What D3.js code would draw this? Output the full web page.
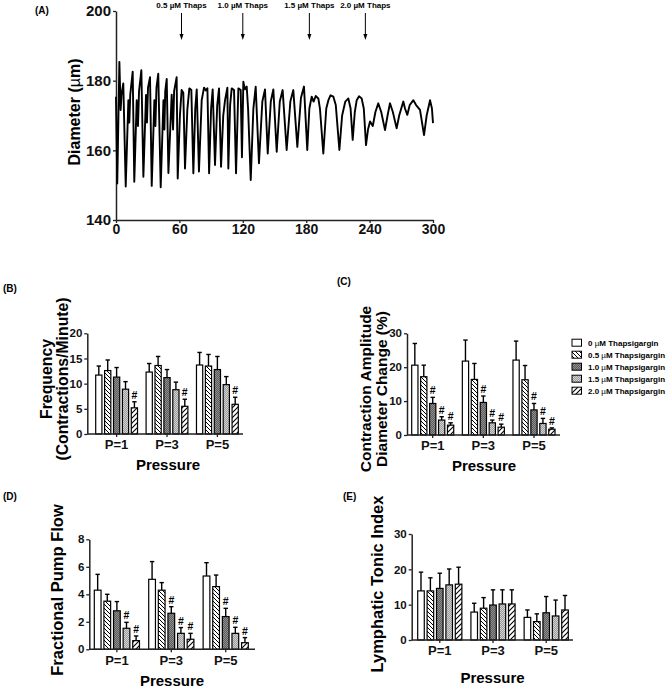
<!DOCTYPE html>
<html><head><meta charset="utf-8">
<script src="https://cdn.jsdelivr.net/npm/d3@7"></script>
<style>
body{margin:0;background:#fff}
svg{display:block;font-family:"Liberation Sans",Arial,sans-serif}
</style></head><body>
<svg id="chart" width="671" height="693"></svg>
<script>
// ---------- Panel A data (diameter trace) ----------
const traceTime = [0,1.2,3.2,4.4,5.2,6.9,9.2,11.7,12.6,13.5,15.8,17.3,19.6,20.8,21.8,24,25.9,28.4,29.3,30.3,32.2,33.8,36.3,37.3,38.3,40,42.3,44.9,45.8,46.6,48,49.6,52.7,54,55,57.4,58.4,
60.5,62.1,63.7,65.3,67.5,69.4,71.3,73.2,75,76.4,78.5,81.1,83.3,85,86.5,88.1,90,91.5,93.7,95.8,97.5,99.4,101.5,103.2,105.4,106.3,108,109.5,111.7,113.6,115.8,118,119.2,120.5,122,123.7,125,127.5,130,132.2,135.3,138.5,141,143.6,146.5,148.9,152.1,155,157.7,161.5,165,167.8,171.6,175,177.9,181,183,185.2,187,189,191.5,193,196.2,199,201,203,205.7,208,211.4,214,217,219.9,222,224,226,227.8,230,232.5,234.5,236.6,238.5,240.4,243,245.5,248.2,251,254.6,257,259.3,262,265.6,268,271.9,273.5,275.7,278,281.4,284,287.7,291.5,294,297.2,299,300];
const traceDiameter = [175.4,150.5,185.4,171.6,176,179.2,149.6,174.4,168,176,182.6,151,174.4,167,177,183,152.4,175.9,168,178,181,149.8,174.4,167,178,182,149.4,174.4,166,177,180.5,153.5,176,166,177,181,151.9,
170,177.3,176.5,154.8,171.6,177.8,177.3,153.4,172,177.5,153.9,174.4,178,177.2,177.8,153.4,172,177.5,155.8,173,177.8,155.3,170,174.4,178,154.8,173,177.8,177.3,153.4,177.8,177.3,158,179.7,177.5,178.3,172,151.5,172,178.3,156.3,174,177.5,159.1,174,177.5,159.6,174,177.3,160.1,174,177.3,161,175,178.3,160.1,172,175.4,174,175.6,174.9,172,159.1,172,174.4,175.8,175.4,173,160.1,170,174,174.9,172,163,171,174.4,175.5,174.9,172,161.5,166,168.3,167,171,173.5,171,165.8,170,173.5,171,166.3,170,174,172,170.2,173,174.4,173,171.6,164.4,170,174.4,172,167.8];
const traceXTicks = [0,60,120,180,240,300];
const traceYTicks = [140,160,180,200];
const drugTimes = [62,120,183,236];
const drugLabels = ["0.5 µM Thaps","1.0 µM Thaps","1.5 µM Thaps","2.0 µM Thaps"];

// ---------- Bar panels data ----------
const pressures = ["P=1","P=3","P=5"];
const doses = ["0 µM Thapsigargin","0.5 µM Thapsigargin","1.0 µM Thapsigargin","1.5 µM Thapsigargin","2.0 µM Thapsigargin"];

const freqMean = [[11.7,12.6,11.3,8.9,5.2],[12.3,13.6,11.2,8.8,5.5],[13.7,13.5,12.8,9.8,5.9]];
const freqErr  = [[1.8,2.1,1.9,1.5,1.2],[1.7,1.8,1.6,1.5,1.4],[2.5,2.3,2.6,1.6,1.4]];
const freqSig  = [[0,0,0,0,1],[0,0,0,0,1],[0,0,0,0,1]];
const freqTicks = [0,5,10,15,20];

const ampMean = [[20.6,17.2,9.3,4.4,2.9],[21.8,16.4,9.6,3.6,2.3],[22.1,16.3,7.4,3.4,1.7]];
const ampErr  = [[6.4,3.4,1.8,1.0,0.7],[6.2,4.7,1.9,0.8,0.9],[5.6,4.2,1.9,1.5,0.4]];
const ampSig  = [[0,0,1,1,1],[0,0,1,1,1],[0,0,1,1,1]];
const ampTicks = [0,10,20,30];

const flowMean = [[4.3,3.5,2.8,1.53,0.63],[5.09,4.3,2.62,1.16,0.73],[5.33,4.56,2.38,1.16,0.48]];
const flowErr  = [[1.15,0.5,0.67,0.43,0.34],[1.29,0.55,0.48,0.42,0.43],[0.97,0.84,0.6,0.44,0.37]];
const flowSig  = [[0,0,0,1,1],[0,0,1,1,1],[0,0,1,1,1]];
const flowTicks = [0,2,4,6,8];

const tonicMean = [[13.9,13.9,14.6,15.6,15.8],[7.9,9.0,9.9,10.2,10.2],[6.4,5.2,7.7,6.8,8.5]];
const tonicErr  = [[5.3,3.7,4.3,4.5,4.8],[2.5,3.0,4.3,4.0,4.0],[2.1,2.2,4.6,4.5,4.1]];
const tonicSig  = [[0,0,0,0,0],[0,0,0,0,0],[0,0,0,0,0]];
const tonicTicks = [0,10,20,30];

// ---------- drawing ----------
const svg = d3.select("#chart");
const defs = svg.append("defs");
function pat(id, w, draw){
  const p = defs.append("pattern").attr("id",id).attr("patternUnits","userSpaceOnUse").attr("width",w).attr("height",w);
  draw(p);
}
pat("p05",4,p=>{p.append("rect").attr("width",4).attr("height",4).attr("fill","#fff");
  p.append("path").attr("d","M-1,-1L5,5M-1,3L1,5M3,-1L5,1").attr("stroke","#000").attr("stroke-width",1);});
pat("p20",5,p=>{p.append("rect").attr("width",5).attr("height",5).attr("fill","#fff");
  p.append("path").attr("d","M-1,6L6,-1M-1,1L1,-1M4,6L6,4").attr("stroke","#000").attr("stroke-width",1.1);});
pat("p10",2,p=>{p.append("rect").attr("width",2).attr("height",2).attr("fill","#5c5c5c");
  p.append("rect").attr("width",1).attr("height",1).attr("fill","#8e8e8e");
  p.append("rect").attr("x",1).attr("y",1).attr("width",1).attr("height",1).attr("fill","#8e8e8e");});
pat("p15",2,p=>{p.append("rect").attr("width",2).attr("height",2).attr("fill","#9c9c9c");
  p.append("rect").attr("width",1).attr("height",1).attr("fill","#d2d2d2");
  p.append("rect").attr("x",1).attr("y",1).attr("width",1).attr("height",1).attr("fill","#d2d2d2");});
const fills = ["#fff","url(#p05)","url(#p10)","url(#p15)","url(#p20)"];
const AX = "#222";

function styleAxis(sel, fs){
  sel.select(".domain").attr("stroke",AX).attr("stroke-width",1.5);
  sel.selectAll(".tick line").attr("stroke",AX).attr("stroke-width",1.3);
  sel.selectAll(".tick text").attr("font-size",fs).attr("font-weight","bold").attr("fill","#111")
    .attr("font-family","'Liberation Sans',Arial,sans-serif");
}
function panelLabel(t,x,y){
  svg.append("text").attr("x",x).attr("y",y).attr("font-size",10).attr("font-weight","bold").text(t);
}

// ----- Panel A -----
const xA = d3.scaleLinear().domain([0,300]).range([116,433]);
const yA = d3.scaleLinear().domain([140,200]).range([220,11]);
panelLabel("(A)",35,14);
svg.append("g").attr("transform","translate(116,0)")
  .call(d3.axisLeft(yA).tickValues(traceYTicks).tickSize(3).tickSizeOuter(0).tickPadding(2))
  .call(s=>styleAxis(s,15));
svg.append("g").attr("transform","translate(0,220)")
  .call(d3.axisBottom(xA).tickValues(traceXTicks).tickSize(3).tickSizeOuter(0).tickPadding(1))
  .call(s=>styleAxis(s,14));
const traceData = traceTime.map((t,i)=>({t, d: traceDiameter[i]}));
svg.append("path").datum(traceData)
  .attr("d", d3.line().x(d=>xA(d.t)).y(d=>yA(d.d)))
  .attr("fill","none").attr("stroke","#000").attr("stroke-width",1.9).attr("stroke-linejoin","round");
const yt = svg.append("text").attr("transform","translate(80,112) rotate(-90)")
  .attr("text-anchor","middle").attr("font-size",16).attr("font-weight","bold");
yt.append("tspan").text("Diameter (");
yt.append("tspan").attr("font-weight","normal").text("µ");
yt.append("tspan").text("m)");
drugTimes.forEach((t,i)=>{
  const x = xA(t);
  svg.append("line").attr("x1",x).attr("x2",x).attr("y1",13).attr("y2",35).attr("stroke","#000").attr("stroke-width",1);
  svg.append("path").attr("d",`M${x-2},${34}L${x+2},${34}L${x},${40}Z`).attr("fill","#000");
  svg.append("text").attr("x",x).attr("y",7.5).attr("text-anchor","middle")
    .attr("font-size",8).attr("font-weight","bold").text(drugLabels[i]);
});

// ----- Bar panels -----
function barPanel(cfg, mean, err, sig, ticks, yMax){
  const g = svg.append("g");
  const y = d3.scaleLinear().domain([0,yMax]).range([cfg.y0, cfg.yTop]);
  const x = d3.scaleBand().domain(pressures).range([cfg.gL, cfg.gR]).paddingInner(0.17);
  const xi = d3.scaleBand().domain(d3.range(doses.length)).range([0, x.bandwidth()]).paddingInner(0.3);
  const rows = [];
  pressures.forEach((p,i)=>doses.forEach((d,j)=>rows.push({p, j, m: mean[i][j], e: err[i][j], s: sig[i][j]})));
  const cx = d => x(d.p) + xi(d.j) + xi.bandwidth()/2;
  g.selectAll(".eb").data(rows).join("line")
    .attr("x1",cx).attr("x2",cx).attr("y1",d=>y(d.m)).attr("y2",d=>y(d.m+d.e))
    .attr("stroke","#000").attr("stroke-width",1.4);
  g.selectAll(".cap").data(rows).join("line")
    .attr("x1",d=>cx(d)-2.2).attr("x2",d=>cx(d)+2.2).attr("y1",d=>y(d.m+d.e)).attr("y2",d=>y(d.m+d.e))
    .attr("stroke","#000").attr("stroke-width",1.4);
  g.selectAll(".bar").data(rows).join("rect")
    .attr("x",d=>x(d.p)+xi(d.j)).attr("width",xi.bandwidth())
    .attr("y",d=>y(d.m)).attr("height",d=>y(0)-y(d.m))
    .attr("fill",d=>fills[d.j]).attr("stroke","#000").attr("stroke-width",1.2);
  g.selectAll(".sig").data(rows.filter(d=>d.s)).join("text")
    .attr("x",cx).attr("y",d=>y(d.m+d.e)-3).attr("text-anchor","middle")
    .attr("font-size",10.5).attr("font-weight","bold").text("#");
  g.append("g").attr("transform",`translate(${cfg.ax0},0)`)
    .call(d3.axisLeft(y).tickValues(ticks).tickSize(3).tickSizeOuter(0).tickPadding(2))
    .call(s=>styleAxis(s,11.5));
  const xg = g.append("g").attr("transform",`translate(0,${cfg.y0})`)
    .call(d3.axisBottom(x).tickSize(3).tickSizeOuter(0).tickPadding(3))
    .call(s=>styleAxis(s,13));
  xg.select(".domain").remove();
  g.append("line").attr("x1",cfg.ax0).attr("x2",cfg.ax1).attr("y1",cfg.y0).attr("y2",cfg.y0)
    .attr("stroke",AX).attr("stroke-width",1.5);
  cfg.yTitles.forEach(t=>{
    g.append("text").attr("transform",`translate(${t.x},${cfg.yTitleY}) rotate(-90)`)
      .attr("text-anchor","middle").attr("font-size",cfg.yTitleSize).attr("font-weight","bold").text(t.text);
  });
  g.append("text").attr("x",cfg.xTitleX).attr("y",cfg.xTitleY).attr("text-anchor","middle")
    .attr("font-size",15).attr("font-weight","bold").text("Pressure");
}

panelLabel("(B)",3,292);
barPanel({ax0:87.3, ax1:243, y0:434, yTop:333.3, gL:95.7, gR:238.3,
  yTitles:[{text:"Frequency",x:51.5},{text:"(Contractions/Minute)",x:67.5}], yTitleY:379, yTitleSize:15.8,
  xTitleX:168, xTitleY:470}, freqMean, freqErr, freqSig, freqTicks, 20);

panelLabel("(C)",337,285);
barPanel({ax0:407, ax1:560, y0:435, yTop:333.3, gL:411.7, gR:555,
  yTitles:[{text:"Contraction Amplitude",x:370.5},{text:"Diameter Change (%)",x:386.5}], yTitleY:389, yTitleSize:15.5,
  xTitleX:484, xTitleY:471}, ampMean, ampErr, ampSig, ampTicks, 30);

panelLabel("(D)",3,500);
barPanel({ax0:89.3, ax1:255, y0:649.3, yTop:539.3, gL:94.3, gR:248.3,
  yTitles:[{text:"Fractional Pump Flow",x:63}], yTitleY:590, yTitleSize:16.5,
  xTitleX:172, xTitleY:686}, flowMean, flowErr, flowSig, flowTicks, 8);

panelLabel("(E)",343,500);
barPanel({ax0:411.7, ax1:573, y0:640, yTop:534, gL:417.7, gR:568.3,
  yTitles:[{text:"Lymphatic Tonic Index",x:383}], yTitleY:584, yTitleSize:16.5,
  xTitleX:492.5, xTitleY:683}, tonicMean, tonicErr, tonicSig, tonicTicks, 30);

// ----- Legend -----
const leg = svg.append("g");
doses.forEach((d,i)=>{
  const yy = 342.7 + 12*i;
  leg.append("rect").attr("x",572).attr("y",yy-3.5).attr("width",9.5).attr("height",7)
    .attr("fill",fills[i]).attr("stroke","#000").attr("stroke-width",1);
  const t = leg.append("text").attr("x",588).attr("y",yy).attr("dy","0.35em")
    .attr("font-size",8).attr("font-weight","bold");
  const parts = d.split("µ");
  t.append("tspan").text(parts[0]);
  t.append("tspan").attr("font-weight","normal").text("µ");
  t.append("tspan").text(parts[1]);
});
</script>
</body></html>
